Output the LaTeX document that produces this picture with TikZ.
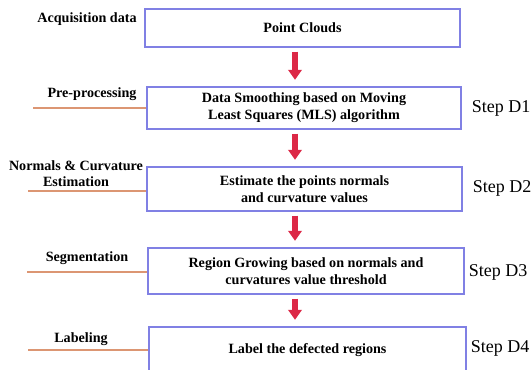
\documentclass[tikz,border=0pt]{standalone}
\usepackage{fontspec}
\setmainfont{Liberation Serif}
\usetikzlibrary{arrows.meta}
\definecolor{boxblue}{RGB}{128,128,228}
\definecolor{arrred}{RGB}{220,40,70}
\definecolor{linesalmon}{RGB}{220,150,115}
\tikzset{
  stepbox/.style={draw=boxblue, line width=0.8pt, rectangle, inner sep=0pt, align=center,
    font=\fontsize{10.6}{12.8}\selectfont\bfseries},
  lefttxt/.style={align=center, inner sep=0pt, font=\fontsize{10.6}{12}\selectfont\bfseries},
  steptxt/.style={inner sep=0pt, font=\fontsize{13.5}{15}\selectfont},
  redarr/.style={draw=arrred, line width=3.8pt, -{Triangle[width=10pt,length=7.5pt]}, arrred,
    shorten <=3pt, shorten >=5pt},
  sline/.style={draw=linesalmon, line width=0.8pt}
}
\begin{document}
\begin{tikzpicture}[x=0.75pt,y=-0.75pt]
\useasboundingbox (0,0) rectangle (531,369);
\clip (0,0) rectangle (531,369);
% boxes
\node[stepbox, minimum width=315*0.75pt, minimum height=38*0.75pt] (b1) at (302.5,28) {Point Clouds};
\node[stepbox, minimum width=314*0.75pt, minimum height=42*0.75pt] (b2) at (304,108) {Data Smoothing based on Moving\\Least Squares (MLS) algorithm};
\node[stepbox, minimum width=315*0.75pt, minimum height=44*0.75pt] (b3) at (304.5,189) {Estimate the points normals\\and curvature values};
\node[stepbox, minimum width=316*0.75pt, minimum height=46*0.75pt] (b4) at (306,271) {Region Growing based on normals and\\curvatures value threshold};
\node[stepbox, minimum width=317*0.75pt, minimum height=46*0.75pt] (b5) at (307.5,350) {Label the defected regions};
% arrows
\coordinate (ax) at (295,0);
\draw[redarr] (b1.south -| ax) -- (b2.north -| ax);
\draw[redarr] (b2.south -| ax) -- (b3.north -| ax);
\draw[redarr] (b3.south -| ax) -- (b4.north -| ax);
\draw[redarr] (b4.south -| ax) -- (b5.north -| ax);
% left labels
\node[lefttxt] (l1) at (87,19) {Acquisition data};
\node[lefttxt] (l2) at (92,94) {Pre-processing};
\node[lefttxt] (l3) at (76,174) {Normals \& Curvature\\Estimation};
\node[lefttxt] (l4) at (87,258) {Segmentation};
\node[lefttxt] (l5) at (81,339) {Labeling};
% salmon lines
\coordinate (p2) at (33,108);
\coordinate (p3) at (28,191);
\coordinate (p4) at (27,272);
\coordinate (p5) at (28,350);
\draw[sline] (p2) -- (b2.west);
\draw[sline] (p3) -- (p3 -| b3.west);
\draw[sline] (p4) -- (p4 -| b4.west);
\draw[sline] (p5) -- (b5.west);
% step labels
\node[steptxt] (s1) at (501,108) {Step D1};
\node[steptxt] (s2) at (502,188) {Step D2};
\node[steptxt] (s3) at (498,272) {Step D3};
\node[steptxt] (s4) at (500,348) {Step D4};
\end{tikzpicture}
\end{document}
